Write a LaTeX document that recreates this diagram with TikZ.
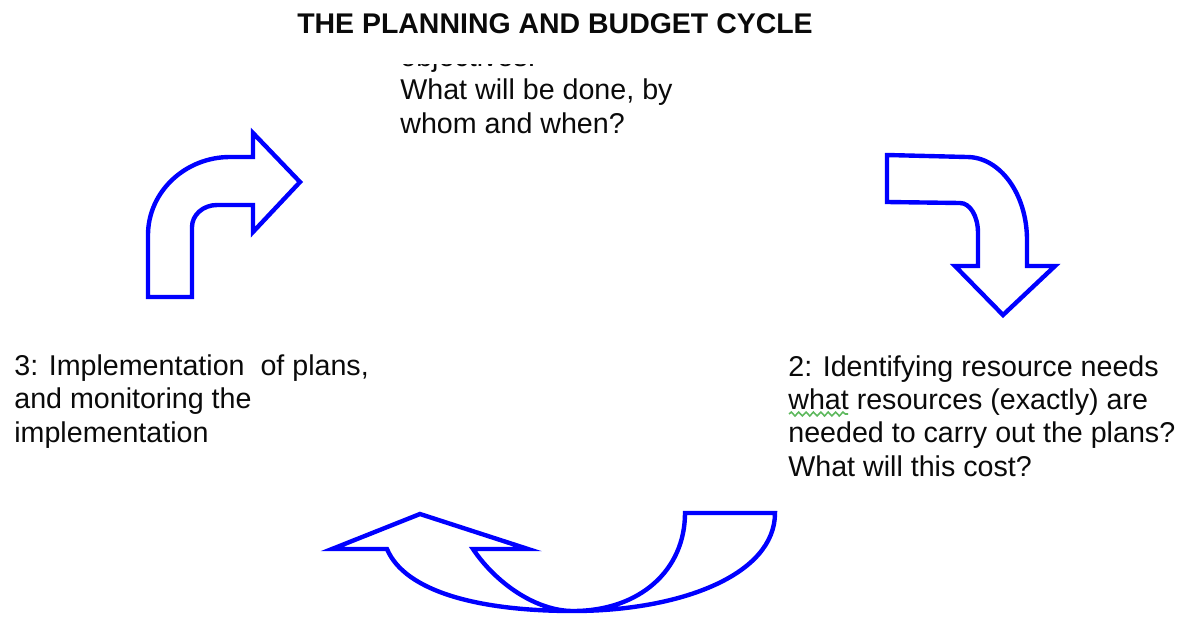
\documentclass[tikz,border=0pt]{standalone}
\usepackage{fontspec}
\setmainfont{Liberation Sans}
\usetikzlibrary{decorations.pathmorphing}
\definecolor{cyarrow}{HTML}{0000FF}
\definecolor{cyink}{HTML}{0A0A0A}
\definecolor{cyspell}{HTML}{5DB85D}
\tikzset{
  cyarrow/.style={draw=cyarrow,line width=2.5pt,line join=miter,miter limit=10},
  stage/.style={font=\fontsize{16.3}{18.8}\selectfont,text=cyink,align=left,
                anchor=base west,inner sep=0pt},
  heading/.style={font=\fontsize{16.2}{19}\selectfont\bfseries,text=cyink,
                anchor=base,inner sep=0pt},
  spell/.style={draw=cyspell,line width=0.9pt,decorate,
                decoration={snake,amplitude=1.1pt,segment length=4.2pt}},
}

\begin{document}
\begin{tikzpicture}[x=0.02cm,y=-0.02cm]
  \useasboundingbox (0,0) rectangle (1180,619);

  \node[heading] (title) at (555,33) {THE PLANNING AND BUDGET CYCLE};

  % ---------- stage 1 (text box cut at its top) ----------
  % base anchor sits on the last line
  \begin{scope}
    \clip (380,64.5) rectangle (720,160);
    \node[stage] (plan) at (400,133)
      {objectives:\\What will be done, by\\whom and when?};
  \end{scope}

  % ---------- stage 2 ----------
  \node[stage] (resources) at (788,476)
    {2: Identifying resource needs\\what resources (exactly) are\\needed to carry out the plans?\\What will this cost?};
  \draw[spell] (789,414) -- (848,414);

  % ---------- stage 3 ----------
  \node[stage] (implement) at (14,442)
    {3: Implementation\ \ of plans,\\and monitoring the\\implementation};

  % ---------- cycle arrows ----------
  % 3 -> 1
  \draw[cyarrow] (148,297) -- (192,297) -- (192,227)
    .. controls (192,215) and (203,205) .. (217,205) -- (253,205) -- (253,232)
    -- (300,182) -- (253,133) -- (253,157) -- (230,157)
    .. controls (185,157) and (148,192) .. (148,235) -- cycle;
  % 1 -> 2
  \draw[cyarrow] (887,155) -- (967,157)
    .. controls (1000,157) and (1027,194) .. (1027,240) -- (1027,266) -- (1055,266)
    -- (1003,315) -- (955,266) -- (978,266) -- (978,233)
    .. controls (978,216) and (970,203) .. (960,203) -- (887,202) -- cycle;
  % 2 -> 3
  \draw[cyarrow] (685,513) -- (775,513)
    .. controls (775,575) and (680,611) .. (573,611)
    .. controls (480,611) and (405,592) .. (387,549) -- (332,549) -- (420,514)
    -- (528,549) -- (473,549)
    .. controls (495,582) and (535,611) .. (573,611)
    .. controls (640,611) and (685,570) .. (685,513) -- cycle;
\end{tikzpicture}
\end{document}
